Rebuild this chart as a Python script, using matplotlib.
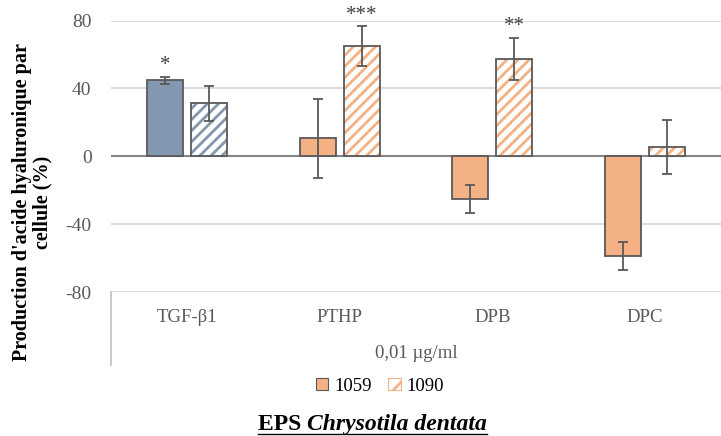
import matplotlib.pyplot as plt
import numpy as np
from matplotlib.patches import Patch
from matplotlib.lines import Line2D

plt.rcParams['font.family'] = ['Liberation Serif', 'DejaVu Serif']
plt.rcParams['hatch.linewidth'] = 2.0

categories = ['TGF-β1', 'PTHP', 'DPB', 'DPC']
vals_1059 = [44.8, 10.5, -25.3, -58.9]
err_1059 = [2.0, 23.2, 8.2, 8.4]
vals_1090 = [31.2, 65.0, 57.3, 5.4]
err_1090 = [10.4, 11.6, 12.6, 15.8]
stars_1059 = ['*', '', '', '']
stars_1090 = ['', '***', '**', '']
series = ['1059', '1090']

blue = '#8497B0'
orange = '#F4B183'
edge = '#595959'
txt = '#595959'
bar_colors = [blue, orange, orange, orange]

fig = plt.figure(figsize=(7.21, 4.36), dpi=100)
ax = fig.add_axes([111 / 721, 1 - 292 / 436, 610 / 721, 271.5 / 436])

x = np.arange(len(categories))
w = 0.236
off = 0.145

# solid bars (1059)
ax.bar(x - off, vals_1059, w, color=bar_colors, edgecolor=edge, linewidth=1.3, zorder=3)
ax.errorbar(x - off, vals_1059, yerr=err_1059, fmt='none', ecolor=edge,
            elinewidth=1.3, capsize=3.5, capthick=1.3, zorder=4)

# hatched bars (1090)
for xi, v, c in zip(x + off, vals_1090, bar_colors):
    ax.bar(xi, v, w, color='white', edgecolor=c, hatch='///', linewidth=0, zorder=3)
    ax.bar(xi, v, w, fill=False, edgecolor=edge, linewidth=1.3, zorder=3)
ax.errorbar(x + off, vals_1090, yerr=err_1090, fmt='none', ecolor=edge,
            elinewidth=1.3, capsize=3.5, capthick=1.3, zorder=4)

# significance stars
for xi, v, e, s in zip(x - off, vals_1059, err_1059, stars_1059):
    if s:
        ax.text(xi, v + e + 1, s, ha='center', va='bottom', fontsize=15, color='#404040', clip_on=False)
for xi, v, e, s in zip(x + off, vals_1090, err_1090, stars_1090):
    if s:
        ax.text(xi, v + e + 1, s, ha='center', va='bottom', fontsize=15, color='#404040', clip_on=False)

ax.set_xlim(-0.5, 3.5)
ax.set_ylim(-80, 80)
ax.set_yticks([-80, -40, 0, 40, 80])
ax.set_yticklabels(['-80', '-40', '0', '40', '80'])
for gy in [-80, -40, 40, 80]:
    ax.axhline(gy, color='#D9D9D9', linewidth=1.3, zorder=1)
ax.axhline(0, color='#868686', linewidth=1.5, zorder=2)

for sp in ax.spines.values():
    sp.set_visible(False)
ax.tick_params(axis='y', length=0, pad=14, labelsize=14, labelcolor=txt)
ax.set_xticks(x)
ax.set_xticklabels(categories)
ax.tick_params(axis='x', length=0, pad=12, labelsize=13.5, labelcolor=txt)

# multi-level category axis
ax.add_line(Line2D([0, 0], [0, -73 / 271.5], transform=ax.transAxes,
                   color='#BFBFBF', linewidth=1.2, clip_on=False))
ax.text(0.5, -61 / 271.5, '0,01 µg/ml', transform=ax.transAxes, ha='center',
        va='center', fontsize=13.5, color=txt)

fig.text(32 / 721, 1 - 202 / 436, "Production d'acide hyaluronique par\ncellule (%)",
         rotation=90, ha='center', va='center', fontsize=14.5, fontweight='bold',
         multialignment='center', linespacing=1.0)

handles = [Patch(facecolor=orange, edgecolor=edge, linewidth=0.8),
           Patch(facecolor='white', edgecolor=orange, hatch='//', linewidth=0.8)]
leg = fig.legend(handles, series, loc='center', bbox_to_anchor=(380 / 721, 1 - 386 / 436),
                 ncol=2, frameon=False, fontsize=13.5, handlelength=0.65, handleheight=0.65,
                 handletextpad=0.3, columnspacing=0.9)
leg.get_patches()[1].set_edgecolor(orange)

# title with underline
fig.canvas.draw()
r = fig.canvas.get_renderer()
t1 = fig.text(0, 1 - 430 / 436, 'EPS ', fontsize=17, fontweight='bold', va='baseline')
t2 = fig.text(0, 1 - 430 / 436, 'Chrysotila dentata', fontsize=17, fontweight='bold',
              style='italic', va='baseline')
w1 = t1.get_window_extent(r).width
w2 = t2.get_window_extent(r).width
total = w1 + w2
x0 = 372 - total / 2
t1.set_x(x0 / 721)
t2.set_x((x0 + w1) / 721)
uy = 1 - 434 / 436
fig.add_artist(Line2D([x0 / 721, (x0 + total) / 721], [uy, uy], color='black', linewidth=1.0))

fig.savefig('out.png', dpi=100)
